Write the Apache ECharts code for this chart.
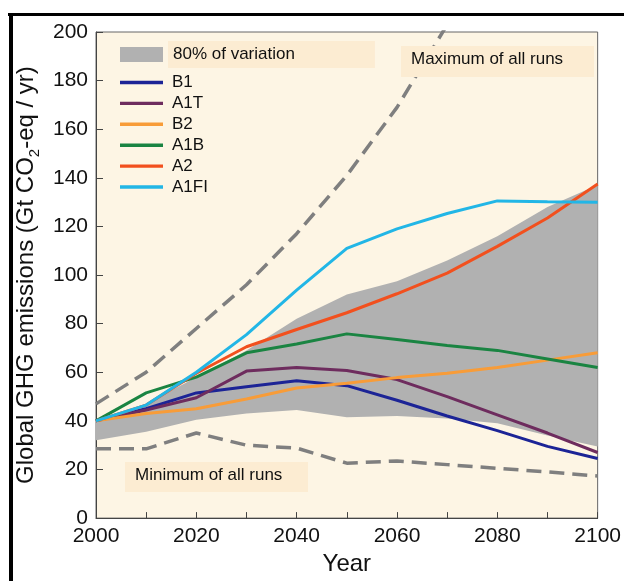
<!DOCTYPE html>
<html>
<head>
<meta charset="utf-8">
<script src="https://cdn.jsdelivr.net/npm/echarts@6/dist/echarts.min.js"></script>
<style>
html,body{margin:0;padding:0;background:#fff;}
#chart{width:624px;height:581px;}
</style>
</head>
<body>
<div id="chart"></div>
<script>
const years = ['2000','2010','2020','2030','2040','2050','2060','2070','2080','2090','2100'];
const B1   = [40, 45, 51.5, 54, 56.5, 54.5, 48.5, 42, 36, 29.5, 24.5];
const A1T  = [40, 44.5, 49.5, 60.5, 62, 60.7, 57, 50, 42.5, 35, 27];
const B2   = [40, 43, 45, 49, 53.5, 55.5, 57.8, 59.6, 62, 65, 68];
const A1B  = [40, 51.5, 58, 68, 71.6, 75.8, 73.5, 71, 69, 65.5, 62];
const A2   = [40, 46.5, 59.6, 70.5, 77.6, 84.5, 92.3, 100.8, 111.8, 123.5, 137.5];
const A1FI = [40, 46.5, 60, 75.5, 93.8, 111, 119, 125.3, 130.5, 130.2, 130];
const maxRuns = [47, 60, 78, 96, 117, 141, 169, 203, '-', '-', '-'];
const minRuns = [28.5, 28.5, 35, 30, 28.8, 22.6, 23.5, 22, 20.5, 19, 17.3];
const bandLow  = [32, 35.5, 40.5, 43, 44.5, 41.5, 42, 41, 39, 34, 29.5];
const bandHigh = [40, 47, 58, 69, 82, 92, 97.5, 106, 116, 128, 137];

const bandDiff = bandHigh.map((v, i) => +(v - bandLow[i]).toFixed(2));

const FONT = "'Liberation Sans', Arial, Helvetica, sans-serif";
const LINE_ICON = 'path://M0,0H43V3.4H0Z';

const scen = [
  {name: 'B1', data: B1, color: '#1c2496'},
  {name: 'A1T', data: A1T, color: '#6e2c5e'},
  {name: 'B2', data: B2, color: '#f89c38'},
  {name: 'A1B', data: A1B, color: '#1a8442'},
  {name: 'A2', data: A2, color: '#f2501e'},
  {name: 'A1FI', data: A1FI, color: '#22b6e6'}
];

const series = [
  {
    name: 'bandBase', type: 'line', stack: 'band', data: bandLow,
    symbol: 'none', lineStyle: {opacity: 0, width: 0}, silent: true,
    areaStyle: {opacity: 0}, z: 1
  },
  {
    name: '80% of variation', type: 'line', stack: 'band', data: bandDiff,
    symbol: 'none', color: '#b1b1b1', lineStyle: {opacity: 0, width: 0},
    areaStyle: {color: '#b1b1b1', opacity: 1}, z: 1
  },
  {
    name: 'Maximum of all runs', type: 'line', data: maxRuns, symbol: 'none', z: 2,
    lineStyle: {color: '#7f7f7f', width: 3.5, type: [15, 8]}
  },
  {
    name: 'Minimum of all runs', type: 'line', data: minRuns, symbol: 'none', z: 2,
    lineStyle: {color: '#7f7f7f', width: 3.5, type: [15, 8]}
  }
];
scen.forEach(s => series.push({
  name: s.name, type: 'line', data: s.data, symbol: 'none', color: s.color, z: 3,
  lineStyle: {color: s.color, width: 3}
}));

const chart = echarts.init(document.getElementById('chart'), null, {renderer: 'canvas'});
chart.setOption({
  animation: false,
  backgroundColor: '#ffffff',
  textStyle: {fontFamily: FONT},
  grid: {
    left: 96, right: 22, top: 32, bottom: 58,
    show: true, backgroundColor: '#fdf5e4', borderColor: '#666', borderWidth: 1
  },
  legend: [
    {
      data: ['80% of variation'], left: 120, top: 41, padding: 0,
      icon: 'rect', itemWidth: 43, itemHeight: 15,
      textStyle: {
        fontFamily: FONT, fontSize: 17, color: '#111',
        backgroundColor: '#fcecd2', padding: [5, 80, 5, 5], lineHeight: 17
      },
      selectedMode: false
    },
    {
      data: scen.map(s => ({name: s.name, icon: LINE_ICON})),
      orient: 'vertical', left: 120, top: 74, padding: 0,
      itemWidth: 43, itemHeight: 14, itemGap: 3.9, symbolKeepAspect: true,
      textStyle: {fontFamily: FONT, fontSize: 17, color: '#111', lineHeight: 14, padding: [0, 0, 0, 4]},
      selectedMode: false
    }
  ],
  xAxis: {
    type: 'category', data: years, boundaryGap: false,
    name: 'Year', nameLocation: 'middle', nameGap: 30,
    nameTextStyle: {fontFamily: FONT, fontSize: 24, color: '#111'},
    axisLine: {lineStyle: {color: '#444', width: 1}},
    axisTick: {inside: true, length: 6, interval: 0, lineStyle: {color: '#444'}},
    axisLabel: {interval: 1, fontFamily: FONT, fontSize: 21, color: '#111', margin: 8},
    splitLine: {show: false}
  },
  yAxis: {
    type: 'value', min: 0, max: 200, interval: 20,
    name: 'Global GHG emissions (Gt CO{sub|2}-eq / yr)',
    nameLocation: 'middle', nameGap: 51, nameRotate: 90,
    nameTextStyle: {
      fontFamily: FONT, fontSize: 24, color: '#111', lineHeight: 32,
      rich: {sub: {fontFamily: FONT, fontSize: 15, color: '#111', lineHeight: 19, verticalAlign: 'bottom'}}
    },
    axisLine: {show: true, lineStyle: {color: '#444', width: 1}},
    axisTick: {show: true, inside: true, length: 7, lineStyle: {color: '#444'}},
    axisLabel: {fontFamily: FONT, fontSize: 21, color: '#111', margin: 8},
    splitLine: {show: false}
  },
  graphic: [
    {type: 'rect', left: 8, top: 13, shape: {width: 616, height: 3}, style: {fill: '#000'}, z: 100},
    {type: 'rect', left: 9, top: 13, shape: {width: 4, height: 568}, style: {fill: '#000'}, z: 100},
    {type: 'rect', left: 401, top: 46, shape: {width: 193, height: 31}, style: {fill: '#fcecd2'}, z: 50},
    {type: 'text', left: 411, top: 51, style: {text: 'Maximum of all runs', font: '17px ' + FONT, fill: '#111'}, z: 51},
    {type: 'rect', left: 125, top: 462, shape: {width: 183, height: 30}, style: {fill: '#fcecd2'}, z: 50},
    {type: 'text', left: 135, top: 467, style: {text: 'Minimum of all runs', font: '17px ' + FONT, fill: '#111'}, z: 51}
  ],
  series: series
});
</script>
</body>
</html>
